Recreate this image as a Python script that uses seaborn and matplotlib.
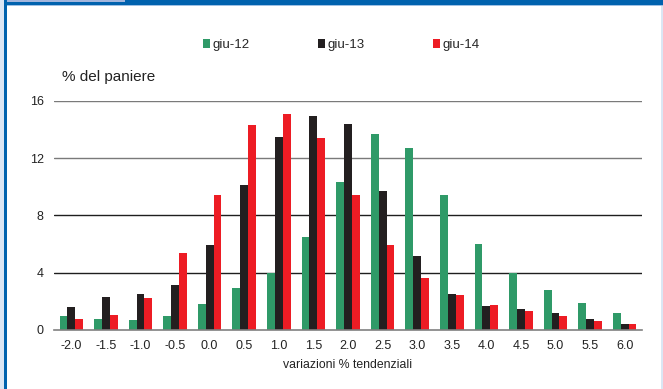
import matplotlib
matplotlib.use("Agg")
import matplotlib.pyplot as plt
from matplotlib.patches import Rectangle, Patch
import pandas as pd
import seaborn as sns

categories = ["-2.0", "-1.5", "-1.0", "-0.5", "0.0", "0.5", "1.0", "1.5", "2.0",
              "2.5", "3.0", "3.5", "4.0", "4.5", "5.0", "5.5", "6.0"]
giu_12 = [1.0, 0.8, 0.7, 0.95, 1.8, 2.9, 4.0, 6.5, 10.3, 13.7, 12.7, 9.4, 6.0, 4.0, 2.8, 1.9, 1.2]
giu_13 = [1.6, 2.3, 2.5, 3.15, 5.9, 10.1, 13.5, 14.9, 14.4, 9.7, 5.15, 2.5, 1.7, 1.5, 1.2, 0.8, 0.4]
giu_14 = [0.8, 1.05, 2.25, 5.35, 9.4, 14.3, 15.1, 13.4, 9.4, 5.9, 3.65, 2.45, 1.75, 1.35, 0.95, 0.65, 0.42]
series_names = ["giu-12", "giu-13", "giu-14"]
y_ticks = [0, 4, 8, 12, 16]

colors = ["#2f9a68", "#231f20", "#ed1c24"]

rows = []
for name, vals in zip(series_names, [giu_12, giu_13, giu_14]):
    for c, v in zip(categories, vals):
        rows.append({"cat": c, "serie": name, "val": v})
df = pd.DataFrame(rows)

sns.set_style("white")
plt.rcParams["font.family"] = ["Liberation Sans", "DejaVu Sans"]

W, H = 663, 389
fig = plt.figure(figsize=(W / 100, H / 100), dpi=100)
ax = fig.add_axes([54 / W, (H - 330) / H, (642 - 54) / W, (330 - 100.7) / H])

sns.barplot(data=df, x="cat", y="val", hue="serie", order=categories,
            hue_order=series_names, palette=colors, width=0.68, gap=0,
            saturation=1, errorbar=None, legend=False, ax=ax, zorder=3,
            linewidth=0)

ax.set_ylim(0, 16)
ax.set_xlim(-0.5, len(categories) - 0.5)
ax.set_yticks(y_ticks)
ax.set_yticklabels([str(t) for t in y_ticks])

for t in y_ticks[1:]:
    ax.axhline(t, color="#1e1e1e" if t <= 8 else "#7a7a7a", lw=1.0, zorder=1)

for s in ["left", "right", "top"]:
    ax.spines[s].set_visible(False)
ax.spines["bottom"].set_color("#808080")
ax.spines["bottom"].set_linewidth(1.2)
ax.spines["bottom"].set_zorder(4)

ax.set_xticks([i - 0.5 for i in range(len(categories) + 1)], minor=True)
ax.tick_params(axis="x", which="minor", length=4, width=1.0, color="#808080", direction="out")
ax.tick_params(axis="x", which="major", length=0, pad=7, labelsize=9, labelcolor="#222222")
ax.tick_params(axis="y", length=0, pad=7.5, labelsize=9, labelcolor="#222222")

ax.set_xlabel("variazioni % tendenziali", fontsize=8.8, color="#222222", labelpad=5)
ax.set_ylabel("")

fig.text(62 / W, 1 - 77 / H, "% del paniere", fontsize=11, color="#222222", va="center", ha="left")

handles = [Patch(facecolor=c, edgecolor="none") for c in colors]
fig.legend(handles, series_names, loc="center", bbox_to_anchor=(341 / W, 1 - 45 / H),
           ncol=3, frameon=False, fontsize=9.5, handlelength=0.55, handleheight=0.6,
           handletextpad=0.15, columnspacing=5.2, borderaxespad=0)

# blue frame around the panel
ft = fig.transFigure
def px_rect(x0, y0, x1, y1, color):
    fig.add_artist(Rectangle((x0 / W, 1 - y1 / H), (x1 - x0) / W, (y1 - y0) / H,
                             transform=ft, facecolor=color, edgecolor="none", zorder=10))

px_rect(0, 0, W, 5, "#0062ae")
px_rect(0, 5, W, 6, "#9ec0e4")
px_rect(7, 0, 125, 2, "#a3b6dd")
px_rect(0, 0, 4, H, "#dbe6f4")
px_rect(4, 5, 7, H, "#0062ae")
px_rect(661, 6, W, H, "#dbe6f4")

fig.savefig("out.png", dpi=100)
